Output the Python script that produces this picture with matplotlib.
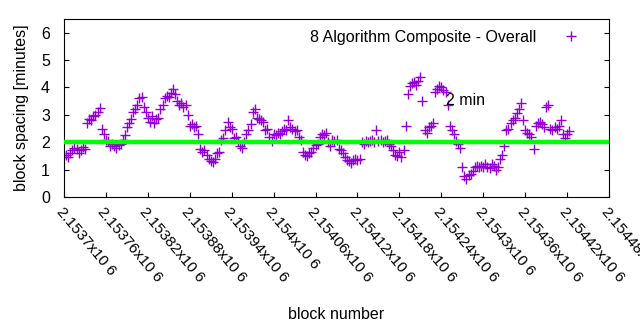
import matplotlib
matplotlib.use("Agg")
import matplotlib.pyplot as plt
import matplotlib.transforms as mtransforms
import numpy as np

plt.rcParams['font.family'] = ['Liberation Sans', 'DejaVu Sans']

# block spacing values, one every 3 blocks starting at block 2153703
first_block = 2153703
block_step = 3
spacing = [
    1.55, 1.45, 1.62, 1.72, 1.80, 1.75, 1.62, 1.70, 1.82, 1.75,
    2.70, 2.85, 2.80, 2.95, 3.00, 3.10, 3.25, 2.50, 2.30, 2.10,
    2.05, 1.88, 1.92, 1.85, 1.80, 1.90, 1.95, 2.10, 2.25, 2.55,
    2.70, 2.85, 3.10, 3.20, 3.35, 3.60, 3.65, 3.30, 3.10, 2.90,
    2.75, 2.95, 2.70, 2.85, 2.90, 3.20, 3.35, 3.60, 3.70, 3.65,
    3.80, 3.95, 3.75, 3.50, 3.35, 3.45, 3.30, 3.35, 3.00, 2.60,
    2.65, 2.55, 2.60, 2.30, 1.75, 1.65, 1.70, 1.55, 1.40, 1.30,
    1.28, 1.40, 1.60, 1.65, 2.10, 2.15, 2.45, 2.75, 2.55, 2.50,
    2.15, 2.20, 2.05, 1.85, 1.80, 2.00, 2.30, 2.45, 2.65, 3.10,
    3.20, 2.90, 2.85, 2.80, 2.75, 2.45, 2.50, 2.20, 2.05, 2.30,
    2.25, 2.35, 2.30, 2.40, 2.50, 2.45, 2.80, 2.55, 2.50, 2.40,
    2.45, 2.20, 2.10, 1.65, 1.55, 1.50, 1.60, 1.65, 1.80, 1.90,
    1.95, 2.20, 2.30, 2.25, 2.35, 2.00, 1.85, 2.10, 2.05, 2.10,
    1.75, 1.70, 1.60, 1.45, 1.35, 1.30, 1.25, 1.35, 1.40, 1.35,
    1.40, 2.00, 1.95, 2.05, 2.00, 2.05, 2.10, 2.00, 2.45, 2.05,
    2.10, 2.00, 2.05, 2.10, 1.95, 1.85, 1.70, 1.55, 1.50, 1.65,
    1.45, 1.70, 2.60, 3.75, 4.05, 4.15, 4.20, 4.10, 4.25, 4.40,
    3.50, 2.45, 2.35, 2.55, 2.60, 2.70, 3.85, 3.95, 4.05, 4.00,
    3.90, 3.85, 3.35, 2.60, 2.45, 2.30, 2.05, 1.95, 1.80, 1.10,
    0.75, 0.65, 0.80, 0.85, 0.95, 1.10, 1.15, 1.10, 1.15, 1.10,
    1.20, 1.10, 1.05, 1.20, 1.15, 1.00, 1.10, 1.40, 1.55, 1.85,
    2.45, 2.50, 2.70, 2.80, 2.90, 3.05, 3.20, 3.45, 2.80, 2.45,
    2.35, 2.30, 2.20, 1.75, 2.60, 2.70, 2.75, 2.65, 2.55, 3.30,
    3.35, 2.50, 2.45, 2.55, 2.50, 2.60, 2.80, 2.30, 2.15, 2.30,
    2.40,
]
blocks = first_block + block_step * np.arange(len(spacing))

target = 2
x_ticks = np.arange(2153700, 2154481, 60)
tick_labels = ["%gx10 6" % (t / 1e6) for t in x_ticks]

fig = plt.figure(figsize=(6.4, 3.3), dpi=100)
ax = fig.add_axes([0.1, 0.403, 0.8516, 0.5394])

ax.plot(blocks, spacing, linestyle="none", marker="+", markersize=7,
        markeredgewidth=1, color="#9400d3", label="8 Algorithm Composite - Overall")
ax.axhline(target, color="#00ff00", linewidth=3.2, zorder=3)
ax.text(2154247, 3.52, "2 min", fontsize=11.5, va="center", ha="left")

ax.set_xlim(2153700, 2154480)
ax.set_ylim(0, 6.5)
ax.set_yticks(range(0, 7))
ax.set_xticks(x_ticks)
ax.set_xticklabels(tick_labels, rotation=-50, ha="left", va="top",
                   rotation_mode="anchor", fontsize=11)
shift = mtransforms.ScaledTranslation(5 / 100, 0, fig.dpi_scale_trans)
for lab in ax.get_xticklabels():
    lab.set_transform(lab.get_transform() + shift)
ax.tick_params(axis="y", direction="in", right=True, labelsize=11.5, pad=10)
ax.tick_params(axis="x", direction="in", top=False, pad=6)

ax.set_xlabel("block number", fontsize=11.5, va="top")
ax.xaxis.set_label_coords(0.5, -0.62)
ax.set_ylabel("block spacing [minutes]", fontsize=11.5, labelpad=9)

ax.legend(loc="upper right", frameon=False, markerfirst=False, fontsize=11.5,
          bbox_to_anchor=(0.975, 1.02), handlelength=1.2, handletextpad=1.6)

fig.savefig("out.png", dpi=100)
